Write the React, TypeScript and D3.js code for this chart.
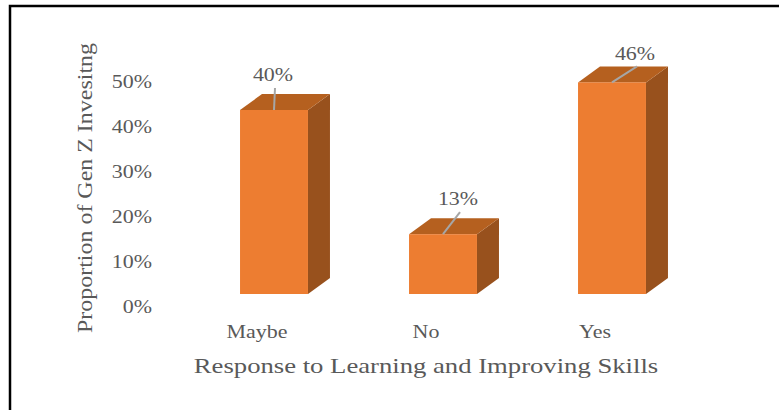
import React from "react";
import * as d3 from "d3";

const categories = ["Maybe", "No", "Yes"];
const values = [40, 13, 46];
const valueLabels = ["40%", "13%", "46%"];
const tickValues = [0, 10, 20, 30, 40, 50];

const W = 779;
const H = 410;
const FONT = "'Liberation Serif', 'Times New Roman', serif";
const TXT = "#595959";
const FRONT = "#ED7D31";
const TOP = "#B5601F";
const SIDE = "#98511D";
const DX = 22;
const DY = -16;
const SX = 1.22; // horizontal stretch of the text
// label offsets relative to the bar's front-top centre
const labelShift: [number, number][] = [
  [-1, -35],
  [15, -35],
  [23, -29],
];

const x = d3.scaleBand<string>().domain(categories).range([189.5, 696.5]).paddingInner(0.598).paddingOuter(0.299);
const yBar = d3.scaleLinear().domain([0, 50]).range([294, 64]);
const yAxis = d3.scaleLinear().domain([0, 50]).range([307, 82]);

function SText({ x, y, children, anchor = "middle", size = 18, sx = SX }: any) {
  return (
    <g transform={`translate(${x},${y}) scale(${sx},1)`}>
      <text textAnchor={anchor} dominantBaseline="central" fontFamily={FONT} fontSize={size} fill={TXT}>
        {children}
      </text>
    </g>
  );
}

export default function App() {
  const bw = x.bandwidth();
  const base = yBar(0);
  return (
    <svg width={W} height={H} style={{ position: "absolute", left: 0, top: 0, background: "#fff" }}>
      <rect x={0} y={0} width={W} height={H} fill="#fff" />
      <path d={`M10,${H + 2} V6 H${W + 2}`} fill="none" stroke="#000" strokeWidth={2.5} />
      {tickValues.map((t) => (
        <SText key={t} x={152} y={yAxis(t)} anchor="end" size={18}>
          {`${t}%`}
        </SText>
      ))}
      {categories.map((c, i) => {
        const x0 = x(c)!;
        const x1 = x0 + bw;
        const yt = yBar(values[i]);
        const top = `M${x0},${yt} L${x1},${yt} L${x1 + DX},${yt + DY} L${x0 + DX},${yt + DY} Z`;
        const side = `M${x1},${yt} L${x1 + DX},${yt + DY} L${x1 + DX},${base + DY} L${x1},${base} Z`;
        const cx = x0 + bw / 2;
        const lx = cx + labelShift[i][0];
        const ly = yt + labelShift[i][1];
        return (
          <g key={c}>
            <path d={side} fill={SIDE} />
            <path d={top} fill={TOP} />
            <rect x={x0} y={yt} width={bw} height={base - yt} fill={FRONT} />
            <line x1={cx} y1={yt} x2={lx + 2} y2={ly + 13} stroke="#A6A6A6" strokeWidth={2} />
            <SText x={lx} y={ly} size={18}>
              {valueLabels[i]}
            </SText>
            <SText x={cx - 17} y={332} size={18}>
              {c}
            </SText>
          </g>
        );
      })}
      <SText x={426} y={366} size={21} sx={1.27}>
        Response to Learning and Improving Skills
      </SText>
      <g transform={`translate(85,188) rotate(-90)`}>
        <text
          textAnchor="middle"
          dominantBaseline="central"
          fontFamily={FONT}
          fontSize={21}
          fill={TXT}
          textLength={290}
          lengthAdjust="spacingAndGlyphs"
        >
          Proportion of Gen Z Invesitng
        </text>
      </g>
    </svg>
  );
}
